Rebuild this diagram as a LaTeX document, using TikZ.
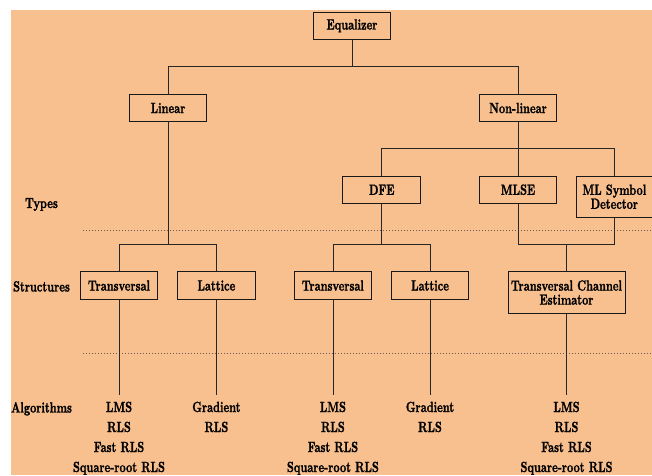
\documentclass[tikz,border=0pt]{standalone}
\usepackage{fontspec}
\newfontfamily\diagfont{lmroman10-bold}[Extension=.otf, FakeStretch=0.73, FakeBold=1.2]
\usetikzlibrary{positioning}
\definecolor{bgpeach}{RGB}{248,191,143}
\definecolor{dotgray}{RGB}{105,92,84}

\begin{document}
\begin{tikzpicture}[x=1pt, y=-1pt,
  font=\diagfont\fontsize{14.8}{14}\selectfont,
  box/.style={draw=black!90, line width=0.9pt, minimum width=77.7pt,
    minimum height=27.5pt, inner sep=1pt, align=center},
  algo/.style={anchor=north, align=center, inner xsep=0pt, inner ysep=6.5pt,
    font=\diagfont\fontsize{14.8}{20}\selectfont},
  tag/.style={anchor=base},
  link/.style={line width=0.8pt, black!85},
  sep/.style={dotgray, line width=0.9pt, dash pattern=on 1pt off 2pt}]
  \useasboundingbox (0,0) rectangle (652,475);
  \fill[bgpeach] (11,9.5) rectangle (652,475);

  % Level separators
  \draw[sep] (83,230.7) -- (652,230.7);
  \draw[sep] (83,353.3) -- (652,353.3);

  % Row labels
  \node[tag] (types) at (41.5,208) {Types};
  \node[tag] (structs) at (41.5,291.5) {Structures};
  \node[tag] (algs) at (41.5,412.5) {Algorithms};

  % Top of the tree
  \node[box] (eq) at (352,25.8) {Equalizer};
  \node[box] (lin) at (168,108) {Linear};
  \node[box] (nonlin) at (518,108) {Non-linear};

  % Types
  \node[box] (dfe) at (381.7,189.7) {DFE};
  \node[box] (mlse) at (518,189.7) {MLSE};
  \node[box, minimum width=75.4pt, minimum height=41.3pt] (mlsd) at (614.3,196.7)
    {ML Symbol\\Detector};

  % Structures
  \node[box] (tr1) at (119,285.5) {Transversal};
  \node[box] (la1) at (216.4,285.5) {Lattice};
  \node[box] (tr2) at (332.9,285.5) {Transversal};
  \node[box] (la2) at (430,285.5) {Lattice};
  \node[box, minimum width=117pt, minimum height=41.6pt] (tce) at (566.5,292.5)
    {Transversal Channel\\Estimator};

  % Algorithms
  \foreach \nm/\x in {alg1/119, alg3/332.9, alg5/566.5}
    \node[algo] (\nm) at (\x,395) {LMS\\RLS\\Fast RLS\\Square-root RLS};
  \foreach \nm/\x in {alg2/216.4, alg4/430}
    \node[algo] (\nm) at (\x,395) {Gradient\\RLS};

  % Bus points
  \coordinate (busA) at (352,66.7);
  \coordinate (busB) at (518,148.7);
  \coordinate (busC) at (168,244.3);
  \coordinate (busD) at (381.7,244.3);
  \coordinate (busE) at (566.5,244.3);

  % Connectors
  \draw[link] (eq.south) -- (busA);
  \draw[link] (lin.north) |- (busA) -| (nonlin.north);
  \draw[link] (nonlin.south) -- (mlse.north);
  \draw[link] (dfe.north) |- (busB) -| (mlsd.north);
  \draw[link] (lin.south) -- (busC);
  \draw[link] (tr1.north) |- (busC) -| (la1.north);
  \draw[link] (dfe.south) -- (busD);
  \draw[link] (tr2.north) |- (busD) -| (la2.north);
  \draw[link] (mlse.south) |- (busE) -| (mlsd.south);
  \draw[link] (busE) -- (tce.north);
  \foreach \s/\a in {tr1/alg1, la1/alg2, tr2/alg3, la2/alg4, tce/alg5}
    \draw[link] (\s.south) -- (\a.north);
\end{tikzpicture}
\end{document}
